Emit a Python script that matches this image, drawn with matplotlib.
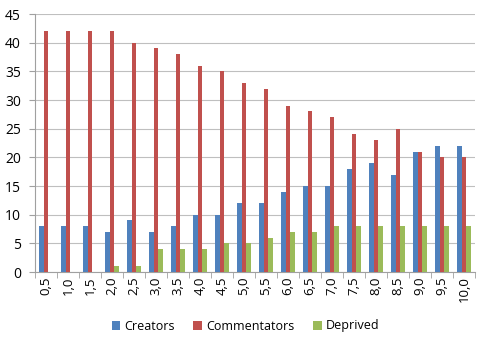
import matplotlib
matplotlib.use("Agg")
import matplotlib.pyplot as plt
import numpy as np

categories = ["0,5","1,0","1,5","2,0","2,5","3,0","3,5","4,0","4,5","5,0",
              "5,5","6,0","6,5","7,0","7,5","8,0","8,5","9,0","9,5","10,0"]
creators = [8,8,8,7,9,7,8,10,10,12,12,14,15,15,18,19,17,21,22,22]
commentators = [42,42,42,42,40,39,38,36,35,33,32,29,28,27,24,23,25,21,20,20]
deprived = [0,0,0,1,1,4,4,4,5,5,6,7,7,8,8,8,8,8,8,8]

plt.rcParams['font.family'] = ['Open Sans', 'DejaVu Sans']
fig = plt.figure(figsize=(4.8, 3.46), dpi=100)
ax = fig.add_axes([35/480, 1-272/346, 440/480, (272-14)/346])

x = np.arange(len(categories))
w = 1/4.5
colors = ['#4F81BD', '#C0504D', '#9BBB59']
names = ['Creators', 'Commentators', 'Deprived']
for i, (vals, c, n) in enumerate(zip([creators, commentators, deprived], colors, names)):
    ax.bar(x + (i-1)*w, vals, w, color=c, label=n, zorder=3)

ax.set_xlim(-0.5, len(categories)-0.5)
ax.set_ylim(0, 45)
ax.set_yticks(range(0, 46, 5))
ax.yaxis.grid(True, color='#BFBFBF', linewidth=0.8, zorder=0)
ax.set_xticks(x)
ax.set_xticklabels(categories, rotation=90, fontsize=9.5)
ax.set_xticks(np.arange(-0.5, len(categories), 1), minor=True)
ax.tick_params(axis='x', which='major', length=0, pad=3)
ax.tick_params(axis='x', which='minor', length=4, color='#A0A0A0')
ax.tick_params(axis='y', length=4, color='#A0A0A0', labelsize=10, pad=6)
for s in ['top', 'right']:
    ax.spines[s].set_visible(False)
ax.spines['bottom'].set_color('#A0A0A0')
ax.spines['left'].set_color('#A0A0A0')

fig.legend(loc='center', bbox_to_anchor=(0.511, 1-326/346), ncol=3, frameon=False,
           fontsize=9, handlelength=0.7, handleheight=0.7, handletextpad=0.3, columnspacing=1.5)
fig.savefig('out.png', dpi=100)
